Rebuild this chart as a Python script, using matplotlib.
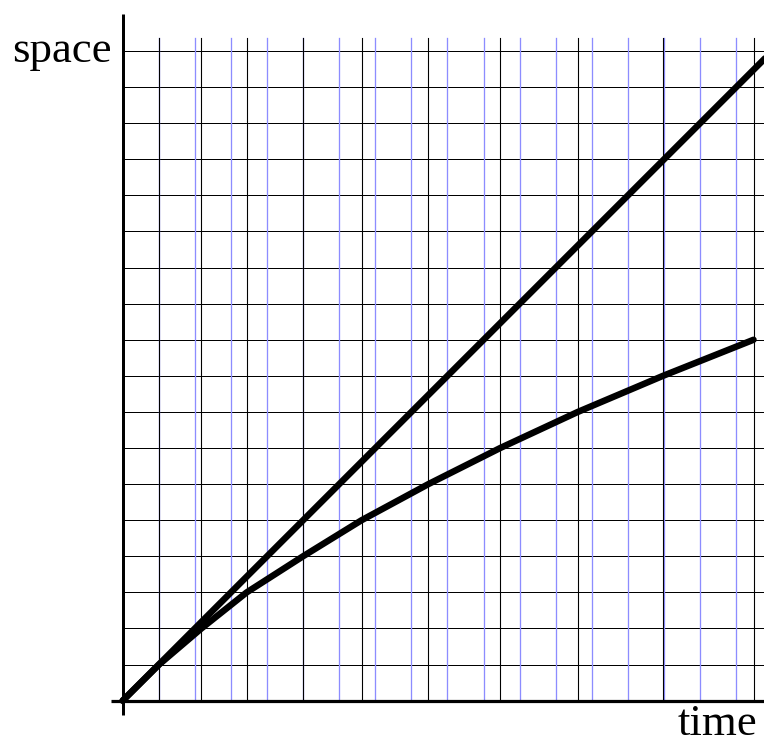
import matplotlib
matplotlib.use("Agg")
import matplotlib.pyplot as plt

# ---- data ----
# time positions where the moving clock ticks (black vertical lines)
tick_times = [1.007, 2.18, 3.436, 4.997, 6.62, 8.47, 10.46, 12.61, 14.97, 17.48]
tick_space = [1, 2, 3, 4, 5, 6, 7, 8, 9, 10]
# regular time grid (blue vertical lines)
blue_times = [1, 2, 3, 4, 5, 6, 7, 8, 9, 10, 11, 12, 13, 14, 15, 16, 17]
# space grid (horizontal lines)
space_levels = [1, 2, 3, 4, 5, 6, 7, 8, 9, 10, 11, 12, 13, 14, 15, 16, 17, 18]
# straight world line
straight_t = [0, 18]
straight_s = [0, 18]
# bent world line
bent_t = [0] + tick_times
bent_s = [0] + tick_space

W, H = 764, 738
DPI = 100
fig = plt.figure(figsize=(W / DPI, H / DPI), dpi=DPI)
ax = fig.add_axes([0, 0, 1, 1])
ax.set_axis_off()

x0, y0, unit = 122.67, 700.67, 36.09
ax.set_xlim(-x0 / unit, (W - x0) / unit)
ax.set_ylim((y0 - H) / unit, y0 / unit)
xr = (W - x0) / unit

px = 72.0 / DPI  # points per pixel

# horizontal grid
for s in space_levels:
    ax.plot([0, xr], [s, s], color="black", lw=1.0 * px, zorder=1)

# blue vertical grid
vtop = (y0 - 38) / unit
for t in blue_times:
    ax.plot([t, t], [0, vtop], color="#8c8cff", lw=1.3 * px, zorder=1)

# black vertical lines
for t in tick_times:
    ax.plot([t, t], [0, vtop], color="black", lw=1.1 * px, zorder=2)

# axes lines
ax.plot([0, 0], [(y0 - 715) / unit, (y0 - 14) / unit], color="black", lw=3 * px, zorder=3, solid_capstyle="butt")
ax.plot([(111 - x0) / unit, xr], [0, 0], color="black", lw=3.2 * px, zorder=3, solid_capstyle="butt")

# world lines
ax.plot(straight_t, straight_s, color="black", lw=6.5 * px, zorder=4, solid_capstyle="round")
ax.plot(bent_t, bent_s, color="black", lw=6.5 * px, zorder=4, solid_capstyle="round", solid_joinstyle="round")

# labels
fig.text(112 / W, (H - 62) / H, "space", ha="right", va="baseline",
         family="Liberation Serif", fontsize=32.2)
fig.text(757 / W, (H - 735) / H, "time", ha="right", va="baseline",
         family="Liberation Serif", fontsize=32.2)

fig.savefig("out.png", dpi=DPI)
